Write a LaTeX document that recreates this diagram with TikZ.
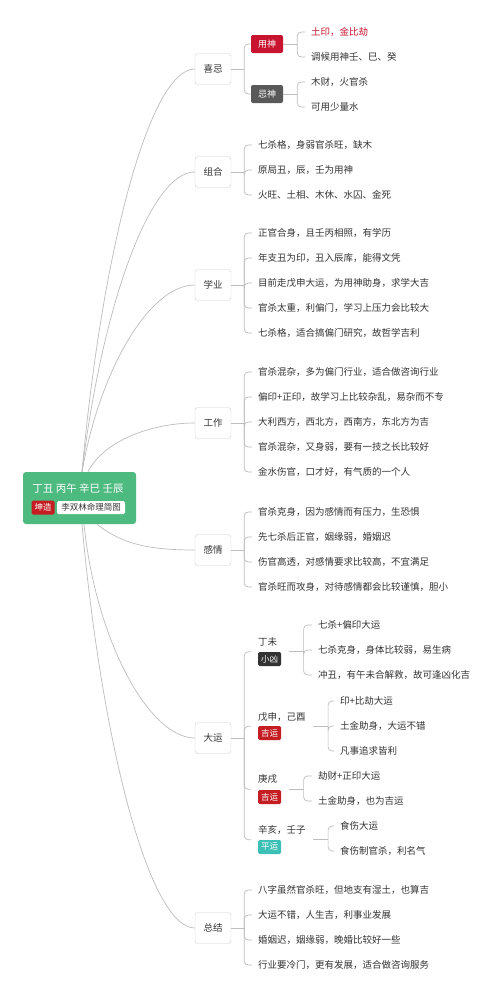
\documentclass[tikz,border=0pt]{standalone}
\usepackage{fontspec}
\setmainfont{Noto Sans CJK SC}
\usetikzlibrary{fit}
\definecolor{rootgreen}{HTML}{4DBB80}
\definecolor{godred}{HTML}{C8142E}
\definecolor{tagred}{HTML}{C41E22}
\definecolor{tagdark}{HTML}{333333}
\definecolor{taggray}{HTML}{595959}
\definecolor{tagteal}{HTML}{3CC0B5}
\definecolor{boxgray}{HTML}{D0D0D0}
\definecolor{linegray}{HTML}{BDBDBD}
\definecolor{textgray}{HTML}{333333}
\tikzset{
  link/.style={draw=linegray, line width=0.7pt, rounded corners=4pt},
  rootlink/.style={draw=linegray, line width=0.7pt},
  rootbox/.style={fill=rootgreen, rounded corners=3pt, minimum width=113pt, minimum height=52pt, inner sep=0pt},
  branch/.style={draw=boxgray, fill=white, rounded corners=3pt, minimum width=36pt, minimum height=31pt, inner sep=0pt, text=textgray, font=\fontsize{9.5}{11}\selectfont},
  godbox/.style={rounded corners=2pt, text=white, minimum width=32pt, minimum height=18pt, inner sep=0pt, font=\fontsize{9}{10}\selectfont},
  tag/.style={rounded corners=1.5pt, text=white, minimum height=14pt, inner xsep=3pt, inner ysep=0pt, font=\fontsize{8.5}{10}\selectfont},
  leaf/.style={anchor=west, inner xsep=6pt, inner ysep=1pt, text=textgray, font=\fontsize{9.5}{11}\selectfont},
  yunname/.style={anchor=west, inner sep=0pt, text=textgray, font=\fontsize{9.5}{11}\selectfont},
}
\begin{document}
\begin{tikzpicture}[x=1pt, y=-1pt]
\fill[white] (0,0) rectangle (500,997);
\useasboundingbox (0,0) rectangle (500,997);

\node[rootbox] (root) at (79.5,498) {};
\node[text=white, font=\fontsize{10.5}{12}\selectfont] (pillars) at (78,489) {丁丑 丙午 辛巳 壬辰};
\node[tag, fill=tagred, minimum width=22pt] (kun) at (43,507.5) {坤造};
\node[tag, fill=white, text=textgray, minimum width=68pt, minimum height=13pt] (title) at (91,507.5) {李双林命理简图};

\node[branch] (xj) at (213,69) {喜忌};
\node[branch] (zh) at (213,172) {组合};
\node[branch] (xy) at (213,285) {学业};
\node[branch] (gz) at (213,423) {工作};
\node[branch] (gq) at (213,550) {感情};
\node[branch] (dy) at (213,738) {大运};
\node[branch] (zj) at (213,928) {总结};

\draw[rootlink] ([xshift=2.5pt]root.north) .. controls +(20,-222) and +(-45,0) .. (xj.west);
\draw[rootlink] ([xshift=2.5pt]root.north) .. controls +(20,-165) and +(-45,0) .. (zh.west);
\draw[rootlink] ([xshift=2.5pt]root.north) .. controls +(18,-103) and +(-45,0) .. (xy.west);
\draw[rootlink] ([xshift=8.5pt]root.north) .. controls +(15,-30) and +(-45,0) .. (gz.west);
\draw[rootlink] ([xshift=17.5pt]root.south) .. controls +(25,20) and +(-45,0) .. (gq.west);
\draw[rootlink] ([xshift=4.5pt]root.south) .. controls +(12,118) and +(-45,0) .. (dy.west);
\draw[rootlink] ([xshift=2.5pt]root.south) .. controls +(20,222) and +(-45,0) .. (zj.west);

\foreach \b in {xj,zh,xy,gz,gq,dy,zj}{
  \coordinate (\b-b) at ([xshift=13pt]\b.east);
  \draw[link] (\b.east) -- (\b-b);
}

\node[godbox, fill=godred] (ys) at (267,44) {用神};
\node[godbox, fill=taggray] (js) at (267,94) {忌神};
\draw[link] (xj-b) |- (ys.west);
\draw[link] (xj-b) |- (js.west);
\coordinate (ys-b) at ([xshift=14pt]ys.east);
\coordinate (js-b) at ([xshift=14pt]js.east);
\draw[link] (ys.east) -- (ys-b);
\draw[link] (js.east) -- (js-b);
\node[leaf, text=godred] (ys1) at (305,32) {土印，金比劫};
\node[leaf] (ys2) at (305,57) {调候用神壬、巳、癸};
\node[leaf] (js1) at (305,82) {木财，火官杀};
\node[leaf] (js2) at (305,107) {可用少量水};
\foreach \c in {ys1,ys2}{\draw[link] (ys-b) |- (\c.west);}
\foreach \c in {js1,js2}{\draw[link] (js-b) |- (\c.west);}

\foreach \t [count=\i] in {七杀格，身弱官杀旺，缺木, 原局丑，辰，壬为用神, 火旺、土相、木休、水囚、金死}{
  \node[leaf] (zh\i) at (252,120+25*\i) {\t};
  \draw[link] (zh-b) |- (zh\i.west);
}
\foreach \t [count=\i] in {正官合身，且壬丙相照，有学历, 年支丑为印，丑入辰库，能得文凭, 目前走戊申大运，为用神助身，求学大吉, 官杀太重，利偏门，学习上压力会比较大, 七杀格，适合搞偏门研究，故哲学吉利}{
  \node[leaf] (xy\i) at (252,208+25*\i) {\t};
  \draw[link] (xy-b) |- (xy\i.west);
}
\foreach \t [count=\i] in {官杀混杂，多为偏门行业，适合做咨询行业, 偏印+正印，故学习上比较杂乱，易杂而不专, 大利西方，西北方，西南方，东北方为吉, 官杀混杂，又身弱，要有一技之长比较好, 金水伤官，口才好，有气质的一个人}{
  \node[leaf] (gz\i) at (252,347+25*\i) {\t};
  \draw[link] (gz-b) |- (gz\i.west);
}
\foreach \t [count=\i] in {官杀克身，因为感情而有压力，生恐惧, 先七杀后正官，姻缘弱，婚姻迟, 伤官高透，对感情要求比较高，不宜满足, 官杀旺而攻身，对待感情都会比较谨慎，胆小}{
  \node[leaf] (gq\i) at (252,487+25*\i) {\t};
  \draw[link] (gq-b) |- (gq\i.west);
}

\node[yunname] (dw) at (258,642) {丁未};
\node[tag, fill=tagdark, anchor=west] (dwt) at (258,659) {小凶};
\node[fit=(dw)(dwt), inner xsep=7pt, inner ysep=0pt] (dwg) {};
\node[yunname] (ws) at (258,717) {戊申，己酉};
\node[tag, fill=tagred, anchor=west] (wst) at (258,733) {吉运};
\node[fit=(ws)(wst), inner xsep=7pt, inner ysep=0pt] (wsg) {};
\node[yunname] (gx) at (258,779) {庚戌};
\node[tag, fill=tagred, anchor=west] (gxt) at (258,797) {吉运};
\node[fit=(gx)(gxt), inner xsep=7pt, inner ysep=0pt] (gxg) {};
\node[yunname] (xh) at (258,830) {辛亥，壬子};
\node[tag, fill=tagteal, anchor=west] (xht) at (258,847) {平运};
\node[fit=(xh)(xht), inner xsep=7pt, inner ysep=0pt] (xhg) {};
\foreach \g in {dwg,wsg,gxg,xhg}{
  \draw[link] (dy-b) |- (\g.west);
  \coordinate (\g-b) at ([xshift=15pt]\g.east);
  \draw[link] (\g.east) -- (\g-b);
}
\foreach \t [count=\i] in {七杀+偏印大运, 七杀克身，身体比较弱，易生病, 冲丑，有午未合解救，故可逢凶化吉}{
  \node[leaf] (dw\i) at (312,600+25*\i) {\t};
  \draw[link] (dwg-b) |- (dw\i.west);
}
\foreach \t [count=\i] in {印+比劫大运, 土金助身，大运不错, 凡事追求皆利}{
  \node[leaf] (ws\i) at (334,676+25*\i) {\t};
  \draw[link] (wsg-b) |- (ws\i.west);
}
\foreach \t [count=\i] in {劫财+正印大运, 土金助身，也为吉运}{
  \node[leaf] (gx\i) at (312,751+25*\i) {\t};
  \draw[link] (gxg-b) |- (gx\i.west);
}
\foreach \t [count=\i] in {食伤大运, 食伤制官杀，利名气}{
  \node[leaf] (xh\i) at (334,801+25*\i) {\t};
  \draw[link] (xhg-b) |- (xh\i.west);
}

\foreach \t [count=\i] in {八字虽然官杀旺，但地支有湿土，也算吉, 大运不错，人生吉，利事业发展, 婚姻迟，姻缘弱，晚婚比较好一些, 行业要冷门，更有发展，适合做咨询服务}{
  \node[leaf] (zj\i) at (252,865+25*\i) {\t};
  \draw[link] (zj-b) |- (zj\i.west);
}
\end{tikzpicture}
\end{document}
